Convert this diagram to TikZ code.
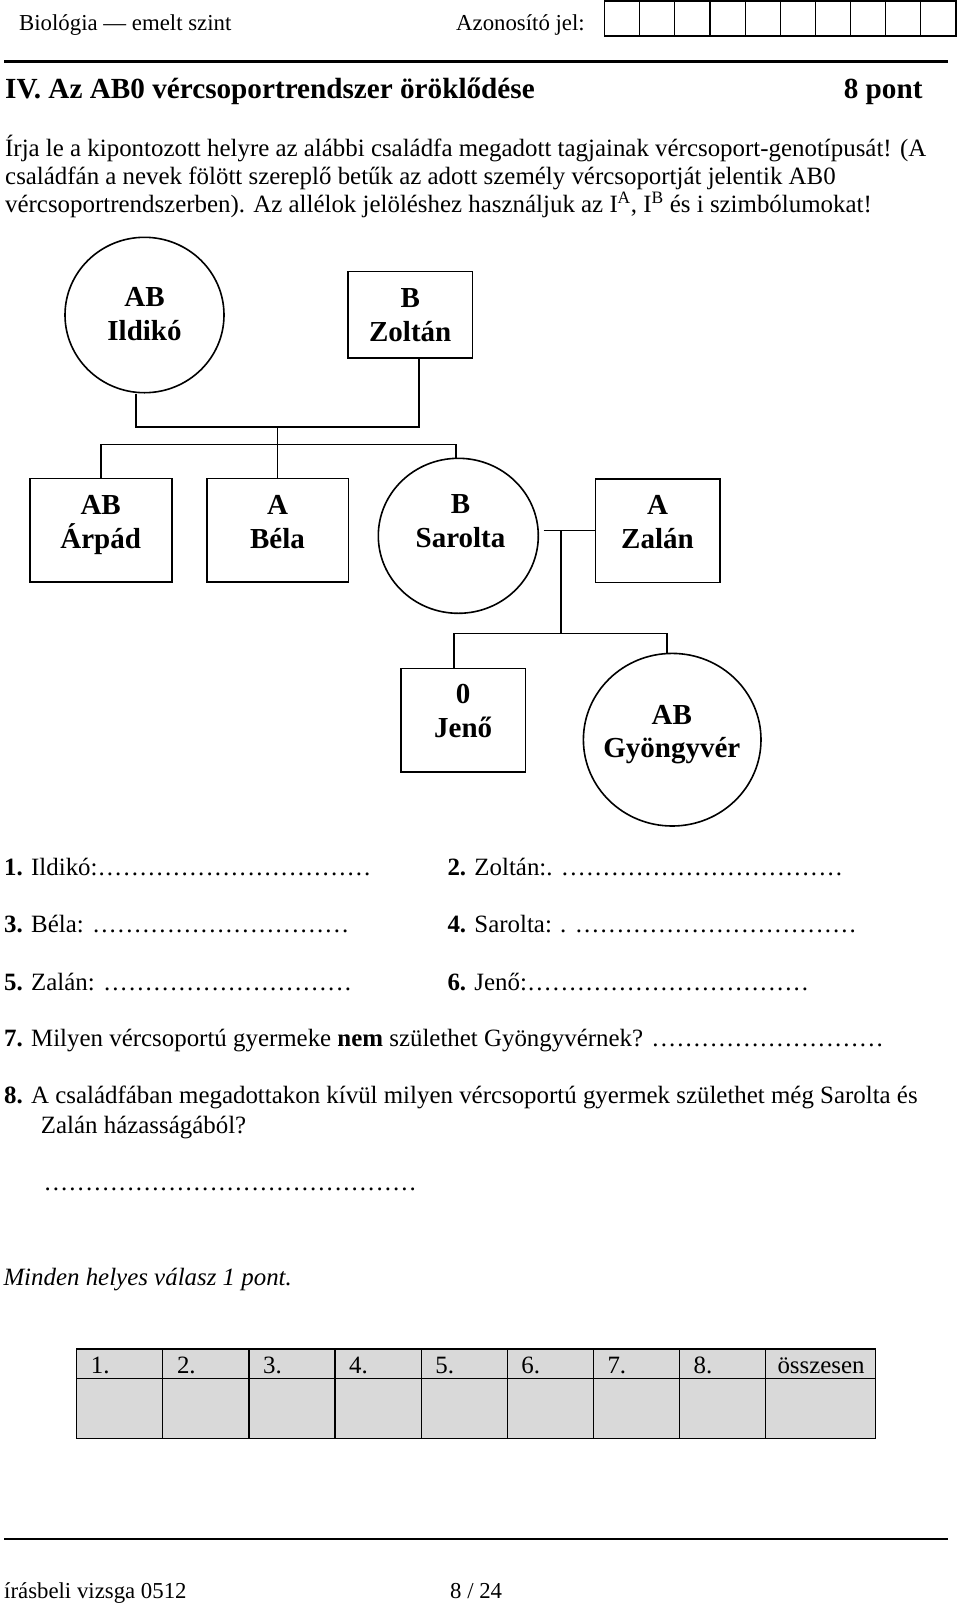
\documentclass[tikz,border=0pt]{standalone}
\usepackage{fontspec}
\setmainfont{Liberation Serif}
\usetikzlibrary{shapes.geometric}
\definecolor{cellgray}{HTML}{D9D9D9}
\newcommand{\pontsor}[1]{\hbox to #1{\xleaders\hbox to 8.3pt{\hss.\hss}\hfill}}
\begin{document}
\begin{tikzpicture}[x=1pt,y=-1pt,
  txt/.style={inner sep=0pt, anchor=base west, font=\fontsize{24.9}{28}\selectfont},
  small/.style={inner sep=0pt, anchor=base west, font=\fontsize{22.8}{26}\selectfont},
  ttl/.style={inner sep=0pt, anchor=base west, font=\fontsize{29.2}{33}\selectfont\bfseries},
  nm/.style={inner sep=0pt, anchor=base, font=\fontsize{29}{33}\selectfont\bfseries},
  person/.style={draw, line width=1.6pt, inner sep=0pt},
  male/.style={person, rectangle, minimum width=124.3pt, minimum height=103.6pt},
  female/.style={person, ellipse},
  link/.style={line width=1.6pt},
  rule/.style={line width=2.5pt},
  grid/.style={line width=1.2pt}]
\useasboundingbox (0,0) rectangle (960,1604);

% ---------- header ----------
\node[small] (hdr) at (19,30) {Biológia — emelt szint};
\node[small] (azon) at (456,30) {Azonosító jel:};
\foreach \i in {0,...,9}
  \draw[grid] ({604.5+35.15*\i},1) rectangle ++(35.15,35);
\draw[rule] (4,61.7) -- (948.3,61.7);

% ---------- title and intro ----------
\node[ttl] (title) at (5,98.3) {IV. Az AB0 vércsoportrendszer öröklődése};
\node[ttl, anchor=base east] (pont) at (922.7,98.3) {8 pont};
\node[txt] (p1) at (5,156.5) {Írja le a kipontozott helyre az alábbi családfa megadott tagjainak vércsoport-genotípusát! (A};
\node[txt] (p2) at (5,184.5) {családfán a nevek fölött szereplő betűk az adott személy vércsoportját jelentik AB0};
\node[txt] (p3) at (5,212.5) {vércsoportrendszerben). Az allélok jelöléshez használjuk az I\textsuperscript{A}, I\textsuperscript{B} és i szimbólumokat!};

% ---------- pedigree ----------
\node[female, minimum width=159pt, minimum height=155.4pt] (ildiko) at (144.5,315) {};
\node[male, minimum height=86.3pt] (zoltan) at (410.2,314.8) {};
\node[male, minimum width=142pt] (arpad) at (100.7,530.2) {};
\node[male, minimum width=141.6pt] (bela) at (277.5,530.2) {};
\node[female, minimum width=160pt, minimum height=155pt] (sarolta) at (458.3,535.8) {};
\node[male] (zalan) at (657.8,530.5) {};
\node[male, minimum width=124.3pt, minimum height=103.4pt] (jeno) at (463.2,720) {};
\node[female, minimum width=177.6pt, minimum height=172.6pt] (gyongy) at (672.2,739.7) {};

\node[nm] (ildikoG) at (144.5,306.7) {AB};
\node[nm] (ildikoN) at (144.5,340) {Ildikó};
\node[nm] (zoltanG) at (410.2,307.3) {B};
\node[nm] (zoltanN) at (410.2,341) {Zoltán};
\node[nm] (arpadG) at (100.7,514) {AB};
\node[nm] (arpadN) at (100.7,548.3) {Árpád};
\node[nm] (belaG) at (277.5,514) {A};
\node[nm] (belaN) at (277.5,548.3) {Béla};
\node[nm] (saroltaG) at (460.5,513.3) {B};
\node[nm] (saroltaN) at (460.5,547.3) {Sarolta};
\node[nm] (zalanG) at (657.5,514.3) {A};
\node[nm] (zalanN) at (657.5,548.3) {Zalán};
\node[nm] (jenoG) at (463.2,703.3) {0};
\node[nm] (jenoN) at (463.2,737.3) {Jenő};
\node[nm] (gyongyG) at (671.8,724.3) {AB};
\node[nm] (gyongyN) at (671.8,757.3) {Gyöngyvér};

\coordinate (m1a) at (136,427);
\coordinate (m1b) at (418.7,427);
\coordinate (sib) at (0,444.3);
\draw[link] (m1a |- ildiko.south) -- (m1a) -- (m1b) -- (m1b |- zoltan.south);
\draw[link] (bela.north |- m1a) -- (bela.north);
\draw[link] (arpad.north) -- (arpad.north |- sib) -- (456,444.3) -- (456,458.5);

\coordinate (m2) at (560.7,530.5);
\coordinate (kidsL) at (454,633.3);
\coordinate (kidsR) at (666.7,633.3);
\draw[link] ([xshift=4.4pt]sarolta.east |- zalan.west) -- (zalan.west);
\draw[link] (m2) -- (m2 |- kidsL);
\draw[link] (kidsL |- jeno.north) -- (kidsL) -- (kidsR) -- (kidsR |- gyongy.north);

% ---------- questions ----------
\node[txt] (a1) at (4,875) {\textbf{1.} Ildikó:\pontsor{273.9pt}};
\node[txt] (a2) at (447.3,875) {\textbf{2.} Zoltán:. \pontsor{282.2pt}};
\node[txt] (a3) at (4,932.7) {\textbf{3.} Béla: \pontsor{257.3pt}};
\node[txt] (a4) at (447.3,932.7) {\textbf{4.} Sarolta: . \pontsor{282.2pt}};
\node[txt] (a5) at (4,990) {\textbf{5.} Zalán: \pontsor{249pt}};
\node[txt] (a6) at (447.3,990) {\textbf{6.} Jenő:\pontsor{282.2pt}};
\node[txt] (a7) at (4,1046.7) {\textbf{7.} Milyen vércsoportú gyermeke \textbf{nem} születhet Gyöngyvérnek? \pontsor{232.4pt}};
\node[txt] (a8) at (4,1103.3) {\textbf{8.} A családfában megadottakon kívül milyen vércsoportú gyermek születhet még Sarolta és};
\node[txt] (a8b) at (40.7,1133.3) {Zalán házasságából?};
\node[txt] (a8d) at (43.3,1190.7) {\pontsor{373.5pt}};
\node[txt, font=\fontsize{24.9}{28}\selectfont\itshape] (minden) at (3.3,1285) {Minden helyes válasz 1 pont.};

% ---------- score table ----------
\draw[grid, fill=cellgray] (76.7,1349) rectangle (875.7,1438.3);
\draw[grid] (76.7,1378.3) -- (875.7,1378.3);
\foreach \x in {162.8,248.9,335,421.1,507.2,593.3,679.4,765.5}
  \draw[grid] (\x,1349) -- (\x,1438.3);
\foreach \x/\t in {76.7/1,162.8/2,248.9/3,335/4,421.1/5,507.2/6,593.3/7,679.4/8}
  \node[txt] (h\t) at (\x+14,1373.3) {\t.};
\node[txt] (hsum) at (777.3,1373.3) {összesen};

% ---------- footer ----------
\draw[line width=2pt] (4,1539) -- (948,1539);
\node[small] (foot1) at (4,1598) {írásbeli vizsga 0512};
\node[small] (foot2) at (450,1598) {8 / 24};
\end{tikzpicture}
\end{document}
